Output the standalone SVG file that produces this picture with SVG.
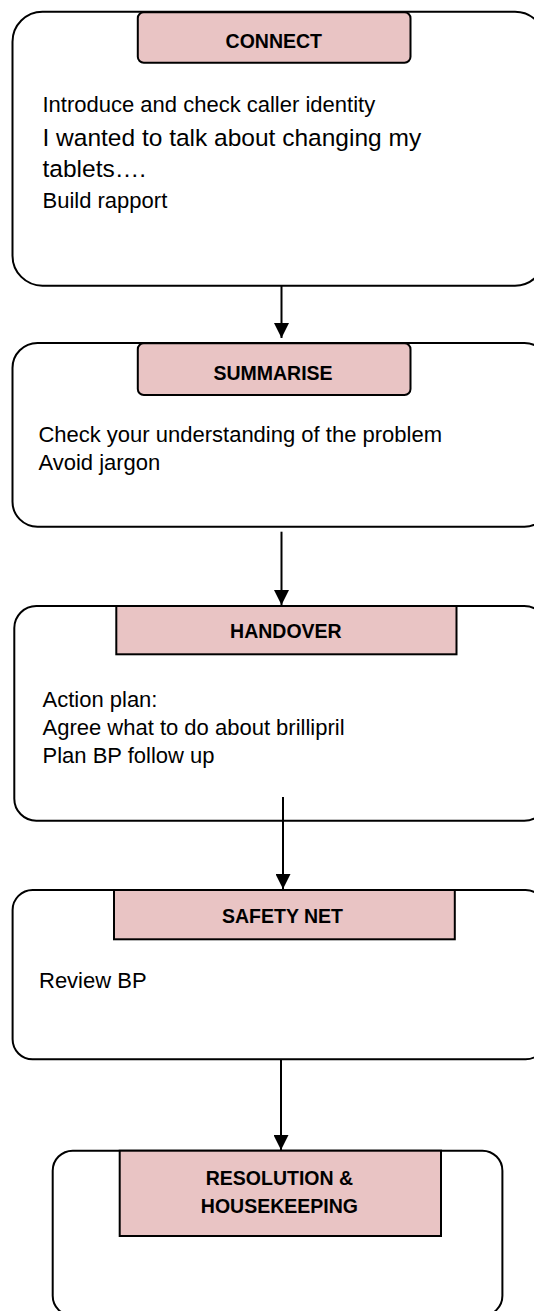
<svg xmlns="http://www.w3.org/2000/svg" width="534" height="1311" viewBox="0 0 534 1311">
<defs>
<style>
.outer{fill:#fff;stroke:#000;stroke-width:2}
.hdr{fill:#E9C4C4;stroke:#000;stroke-width:2}
.ht{font-family:"Liberation Sans",Arial,sans-serif;font-weight:bold;font-size:19.5px;fill:#000;text-anchor:middle}
.bt{font-family:"Liberation Sans",Arial,sans-serif;font-size:22px;fill:#000}
.bt2{font-family:"Liberation Sans",Arial,sans-serif;font-size:24.5px;fill:#000}
.conn{stroke:#000;stroke-width:2;fill:none;marker-end:url(#arr)}
</style>
<marker id="arr" viewBox="0 0 15 15" refX="15" refY="7.5" markerWidth="15" markerHeight="15" markerUnits="userSpaceOnUse" orient="auto">
<path d="M0,0 L15,7.5 L0,15 z" fill="#000"/>
</marker>
</defs>
<rect width="534" height="1311" fill="#fff"/>
<g id="connect">
<rect class="outer" x="12.5" y="11.7" width="532.5" height="274" rx="30" ry="30"/>
<rect class="hdr" x="137.8" y="12.3" width="272.7" height="50.4" rx="6" ry="6"/>
<text class="ht" x="273.8" y="47.7">CONNECT</text>
<text class="bt" x="42.5" y="112.3">Introduce and check caller identity</text>
<text class="bt2" x="42.5" y="145.7">I wanted to talk about changing my</text>
<text class="bt2" x="42.5" y="176.7">tablets….</text>
<text class="bt" x="42.5" y="208.3">Build rapport</text>
</g>
<g id="summarise">
<rect class="outer" x="12.5" y="343" width="537" height="183.7" rx="25" ry="25"/>
<rect class="hdr" x="137.8" y="343.3" width="272.7" height="51.7" rx="6" ry="6"/>
<text class="ht" x="273" y="380">SUMMARISE</text>
<text class="bt" x="38.4" y="441.7">Check your understanding of the problem</text>
<text class="bt" x="38.4" y="470">Avoid jargon</text>
</g>
<g id="handover">
<rect class="outer" x="14.3" y="606" width="532" height="214.7" rx="22" ry="22"/>
<rect class="hdr" x="116.3" y="606" width="340.2" height="48.3"/>
<text class="ht" x="285.9" y="638.3">HANDOVER</text>
<text class="bt" x="42.5" y="706.7">Action plan:</text>
<text class="bt" x="42.5" y="735">Agree what to do about brillipril</text>
<text class="bt" x="42.5" y="763.3">Plan BP follow up</text>
</g>
<g id="safety-net">
<rect class="outer" x="12.6" y="890" width="533" height="169.3" rx="20" ry="20"/>
<rect class="hdr" x="114" y="890" width="340.8" height="49.3"/>
<text class="ht" x="282.5" y="923.3">SAFETY NET</text>
<text class="bt" x="39" y="988.3">Review BP</text>
</g>
<g id="resolution">
<rect class="outer" x="52.7" y="1150.7" width="449.7" height="165" rx="20" ry="20"/>
<rect class="hdr" x="119.7" y="1150.7" width="321.3" height="85.3"/>
<text class="ht" x="279.4" y="1185">RESOLUTION &amp;</text>
<text class="ht" x="279.4" y="1213.3">HOUSEKEEPING</text>
</g>
<g id="connectors">
<line class="conn" x1="281.5" y1="286" x2="281.5" y2="338"/>
<line class="conn" x1="281.5" y1="531.7" x2="281.5" y2="605"/>
<line class="conn" x1="283" y1="797" x2="283" y2="889"/>
<line class="conn" x1="281" y1="1059" x2="281" y2="1150"/>
</g>
</svg>
